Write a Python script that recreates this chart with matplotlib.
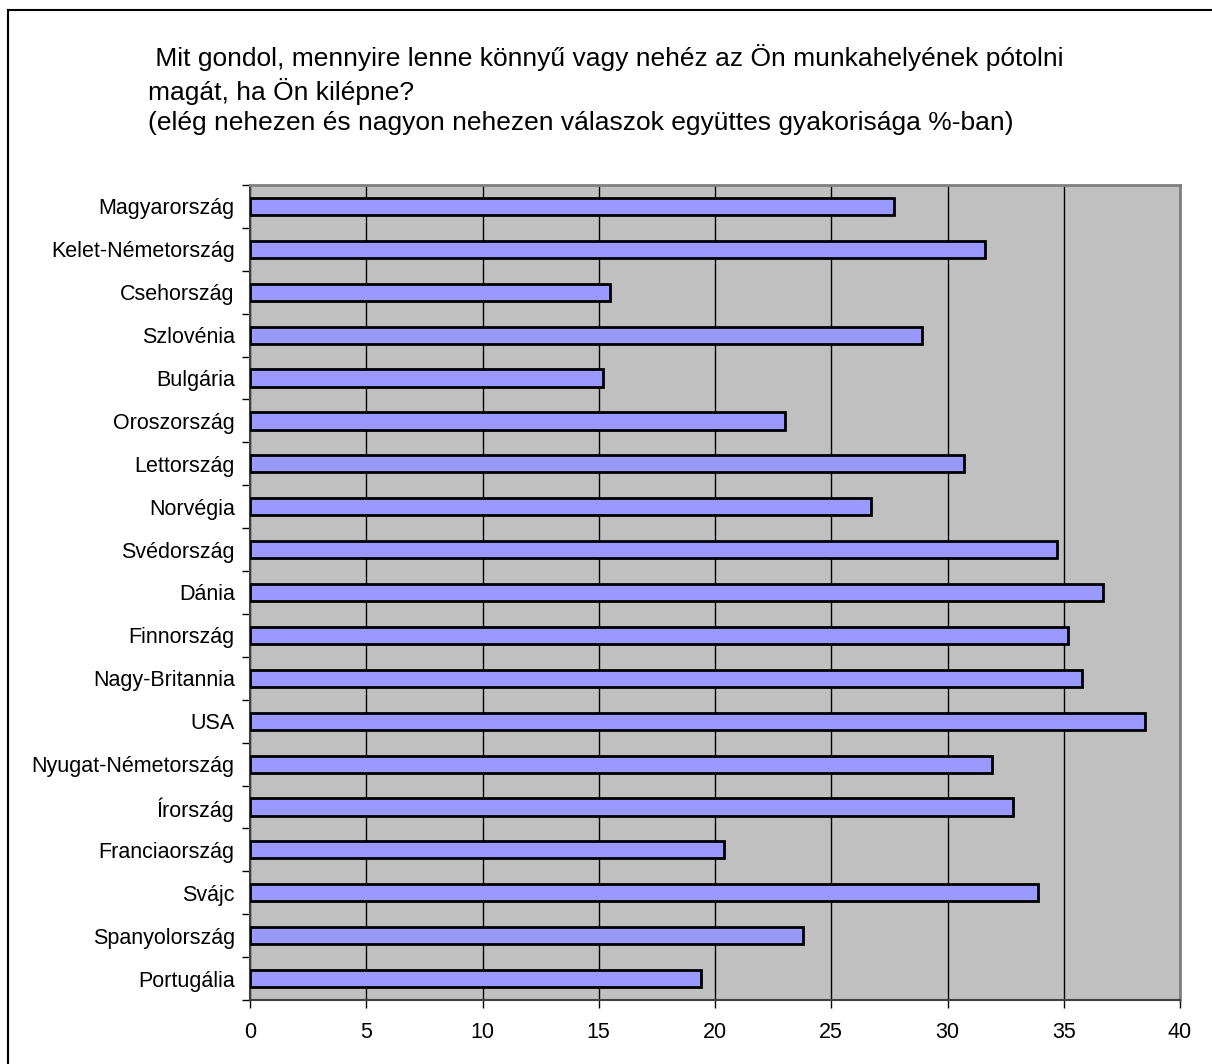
import numpy as np
import matplotlib
matplotlib.use('Agg')
import matplotlib.pyplot as plt
from matplotlib.lines import Line2D

plt.rcParams['font.family'] = ['Liberation Sans', 'DejaVu Sans']

# Data
countries = ['Magyarország', 'Kelet-Németország', 'Csehország', 'Szlovénia', 'Bulgária',
             'Oroszország', 'Lettország', 'Norvégia', 'Svédország', 'Dánia',
             'Finnország', 'Nagy-Britannia', 'USA', 'Nyugat-Németország', 'Írország',
             'Franciaország', 'Svájc', 'Spanyolország', 'Portugália']
values = [27.7, 31.6, 15.5, 28.9, 15.2,
          23.0, 30.7, 26.7, 34.7, 36.7,
          35.2, 35.8, 38.5, 31.9, 32.8,
          20.4, 33.9, 23.8, 19.4]
x_ticks = [0, 5, 10, 15, 20, 25, 30, 35, 40]

title = (" Mit gondol, mennyire lenne könnyű vagy nehéz az Ön munkahelyének pótolni\n"
         "magát, ha Ön kilépne?\n"
         "(elég nehezen és nagyon nehezen válaszok együttes gyakorisága %-ban)")

fig = plt.figure(figsize=(12.12, 10.64), dpi=100)
ax = fig.add_axes([250 / 1212, 1 - 1000 / 1064, 930 / 1212, 815 / 1064])

y = np.arange(len(countries))
ax.set_facecolor('#C0C0C0')
ax.set_axisbelow(True)
ax.grid(axis='x', color='black', linewidth=1)
ax.barh(y, values, height=0.4, color='#9999FF', edgecolor='black', linewidth=2, zorder=3)

ax.set_xlim(0, 40)
ax.set_ylim(len(countries) - 0.5, -0.5)
ax.set_xticks(x_ticks)
ax.set_xticklabels([str(t) for t in x_ticks], fontsize=15.5)
ax.tick_params(axis='x', direction='out', length=6, width=1, pad=10)

ax.set_yticks(y)
ax.set_yticklabels(countries, fontsize=15.5)
ax.set_yticks(np.arange(len(countries) + 1) - 0.5, minor=True)
ax.tick_params(axis='y', which='major', length=0, pad=11)
ax.tick_params(axis='y', which='minor', direction='out', length=6, width=1)

for side in ['top', 'right']:
    ax.spines[side].set_color('#808080')
    ax.spines[side].set_linewidth(2)
for side in ['left', 'bottom']:
    ax.spines[side].set_color('#404040')
    ax.spines[side].set_linewidth(1.5)

fig.text(148 / 1212, 1 - 44 / 1064, title, fontsize=19, ha='left', va='top', linespacing=1.31)

# outer chart frame (top and left edges visible)
fig.add_artist(Line2D([8 / 1212, 8 / 1212], [0, 1 - 10 / 1064], color='black', linewidth=1.5,
                      transform=fig.transFigure))
fig.add_artist(Line2D([8 / 1212, 1], [1 - 10 / 1064, 1 - 10 / 1064], color='black', linewidth=1.5,
                      transform=fig.transFigure))

fig.savefig('out.png', dpi=100)
